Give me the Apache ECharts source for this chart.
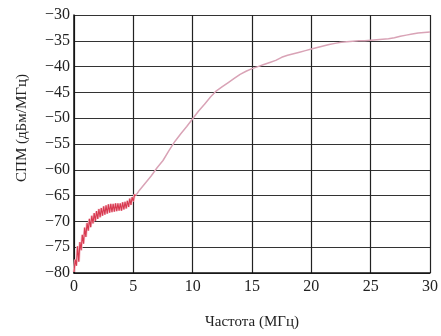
<!DOCTYPE html>
<html><head><meta charset="utf-8">
<script src="https://cdn.jsdelivr.net/npm/echarts@6/dist/echarts.min.js"></script>
<style>html,body{margin:0;padding:0;background:#fff}#c{width:441px;height:336px}</style>
</head><body><div id="c"></div>
<script>
const xTicks = [0,5,10,15,20,25,30];
const yTicks = [-80,-75,-70,-65,-60,-55,-50,-45,-40,-35,-30];
const xLow = [0,0.1,0.2,0.3,0.4,0.5,0.6,0.7,0.8,0.9,1.0,1.1,1.2,1.3,1.4,1.5,1.6,1.7,1.8,1.9,2.0,2.1,2.2,2.3,2.4,2.5,2.6,2.7,2.8,2.9,3.0,3.1,3.2,3.3,3.4,3.5,3.6,3.7,3.8,3.9,4.0,4.1,4.2,4.3,4.4,4.5,4.6,4.7,4.8,4.9,5.0,5.1,5.2];
const yLow = [-79.8,-77.4,-78.6,-74.8,-77.8,-74.0,-75.6,-72.6,-74.3,-71.2,-73.0,-70.3,-71.8,-69.5,-71.1,-68.9,-70.4,-68.4,-69.9,-68.0,-69.5,-67.6,-69.2,-67.4,-68.9,-67.1,-68.7,-66.9,-68.5,-66.7,-68.3,-66.6,-68.2,-66.6,-68.1,-66.5,-68.0,-66.5,-67.9,-66.5,-67.9,-66.3,-67.7,-66.2,-67.5,-66.0,-67.2,-65.6,-66.8,-65.3,-66.1,-64.8,-65.0];
const xHigh = [5.2,5.5,6,6.5,7,7.5,8,8.5,9,9.5,10,10.5,11,11.5,12,12.5,13,13.5,14,14.5,15,15.5,16,16.5,17,17.5,18,18.5,19,19.5,20,20.5,21,21.5,22,22.5,23,23.5,24,24.5,25,25.5,26,26.5,27,27.5,28,28.5,29,29.5,30];
const yHigh = [-65.0,-64.0,-62.6,-61.2,-59.6,-58.2,-56.3,-54.5,-53.0,-51.6,-50.1,-48.6,-47.3,-45.9,-44.7,-43.9,-43.1,-42.3,-41.5,-40.9,-40.4,-40.0,-39.6,-39.2,-38.8,-38.2,-37.8,-37.5,-37.2,-36.9,-36.6,-36.3,-36.0,-35.7,-35.5,-35.3,-35.2,-35.1,-35.0,-35.0,-34.9,-34.8,-34.7,-34.6,-34.4,-34.1,-33.9,-33.7,-33.5,-33.4,-33.3];
const xName = 'Частота (МГц)';
const yName = 'СПМ (дБм/МГц)';

const low = xLow.map((x,i)=>[x,yLow[i]]);
const high = xHigh.map((x,i)=>[x,yHigh[i]]);
const font = '"Liberation Serif","Times New Roman",serif';
const chart = echarts.init(document.getElementById('c'));
chart.setOption({
  animation:false,
  backgroundColor:'#fff',
  grid:{left:74,right:5,top:15,bottom:63,containLabel:false},
  xAxis:{type:'value',min:xTicks[0],max:xTicks[xTicks.length-1],interval:5,
    name:xName,nameLocation:'middle',nameGap:42,
    nameTextStyle:{fontFamily:font,fontSize:15,color:'#222'},
    axisLine:{show:true,onZero:false,lineStyle:{color:'#111',width:1.5}},
    axisTick:{show:false},
    axisLabel:{fontFamily:font,fontSize:16,color:'#222',margin:6},
    splitLine:{show:true,lineStyle:{color:'#222',width:1.2}}},
  yAxis:{type:'value',min:yTicks[0],max:yTicks[yTicks.length-1],interval:5,
    axisLine:{show:true,onZero:false,lineStyle:{color:'#111',width:1.5}},
    axisTick:{show:false},
    axisLabel:{fontFamily:font,fontSize:16,color:'#222',margin:4,
      formatter:v=>String(v).replace('-','\u2212')},
    splitLine:{show:true,lineStyle:{color:'#333',width:1.2}}},
  graphic:[{type:'text',x:22,y:128,rotation:Math.PI/2,
    style:{text:yName,fontFamily:font,fontSize:15,fill:'#222',align:'center',verticalAlign:'middle'}}],
  series:[
    {type:'line',data:high,showSymbol:false,lineStyle:{color:'#d9a3b6',width:1.5}},
    {type:'line',data:low,showSymbol:false,lineStyle:{color:'#f4c2cc',width:2.6}},
    {type:'line',data:low,showSymbol:false,lineStyle:{color:'#d83a50',width:1.1}}
  ]
});
</script></body></html>
